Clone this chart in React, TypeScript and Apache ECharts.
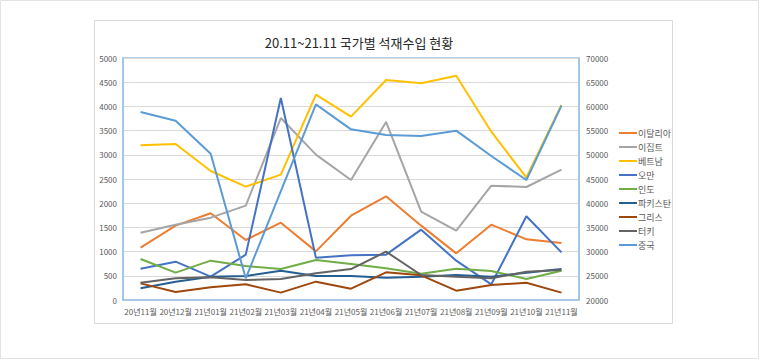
import React, { useEffect, useRef } from "react";
import * as echarts from "echarts";

const categories = ["20년11월", "20년12월", "21년01월", "21년02월", "21년03월", "21년04월", "21년05월", "21년06월", "21년07월", "21년08월", "21년09월", "21년10월", "21년11월"];

const italy = [1081, 1536, 1791, 1240, 1598, 1005, 1742, 2142, 1536, 964, 1556, 1253, 1178];
const egypt = [1391, 1556, 1701, 1949, 3760, 3003, 2479, 3678, 1825, 1432, 2362, 2335, 2693];
const vietnam = [3196, 3223, 2665, 2342, 2590, 4242, 3788, 4545, 4477, 4635, 3478, 2530, 4029];
const oman = [647, 792, 482, 937, 4174, 875, 923, 937, 1453, 813, 324, 1729, 985];
const india = [847, 565, 813, 702, 640, 826, 744, 654, 544, 647, 599, 434, 606];
const pakistan = [241, 379, 482, 496, 606, 496, 496, 461, 482, 516, 482, 565, 640];
const greece = [344, 165, 262, 324, 152, 379, 234, 572, 510, 193, 310, 358, 152];
const turkey = [358, 448, 468, 413, 434, 551, 640, 999, 516, 482, 448, 585, 620];
const china = [58840, 57050, 50230, 24480, 42520, 60430, 55260, 54090, 53880, 54990, 49750, 44790, 60150];

const seriesDefs = [
  { name: "이탈리아", data: italy, color: "#ED7D31", axis: 0 },
  { name: "이집트", data: egypt, color: "#A5A5A5", axis: 0 },
  { name: "베트남", data: vietnam, color: "#FFC000", axis: 0 },
  { name: "오만", data: oman, color: "#4472C4", axis: 0 },
  { name: "인도", data: india, color: "#70AD47", axis: 0 },
  { name: "파키스탄", data: pakistan, color: "#255E91", axis: 0 },
  { name: "그리스", data: greece, color: "#9E480E", axis: 0 },
  { name: "터키", data: turkey, color: "#636363", axis: 0 },
  { name: "중국", data: china, color: "#5B9BD5", axis: 1 },
];

const FONT = '"Noto Sans CJK KR", "Noto Sans", sans-serif';

export default function App() {
  const ref = useRef<HTMLDivElement>(null);
  useEffect(() => {
    document.body.style.margin = "0";
    const chart = echarts.init(ref.current!, null, { renderer: "svg" });
    chart.setOption({
      animation: false,
      backgroundColor: "#ffffff",
      textStyle: { fontFamily: FONT },
      title: {
        text: "20.11~21.11 국가별 석재수입 현황",
        left: 354,
        top: 31,
        textAlign: "center",
        textStyle: { fontSize: 13, fontWeight: "normal", color: "#262626", fontFamily: FONT },
      },
      graphic: [
        { type: "rect", shape: { x: 0.5, y: 0.5, width: 758, height: 358 }, style: { fill: "none", stroke: "#E3E3E3", lineWidth: 1 }, silent: true },
        { type: "rect", shape: { x: 94.5, y: 20.5, width: 578, height: 303 }, style: { fill: "none", stroke: "#D9D9D9", lineWidth: 1 }, silent: true },
      ],
      legend: {
        orient: "vertical",
        left: 614,
        top: 123,
        itemWidth: 18,
        itemHeight: 2,
        itemGap: 4,
        icon: "rect",
        data: seriesDefs.map((s) => s.name),
        textStyle: { fontSize: 9, color: "#595959", lineHeight: 10, padding: [0, 0, 0, -4], fontFamily: FONT },
      },
      grid: {
        left: 123,
        right: 181,
        top: 58,
        bottom: 60,
        show: true,
        borderColor: "#9DC3E6",
        borderWidth: 1.5,
      },
      xAxis: {
        type: "category",
        data: categories,
        boundaryGap: true,
        axisLine: { show: true, lineStyle: { color: "#9DC3E6", width: 1.5 } },
        axisTick: { show: false },
        axisLabel: { interval: 0, fontSize: 8, color: "#595959", margin: 7, fontFamily: FONT },
      },
      yAxis: [
        {
          type: "value",
          min: 0,
          max: 5000,
          interval: 500,
          axisLine: { show: true, lineStyle: { color: "#9DC3E6", width: 1.5 } },
          axisTick: { show: false },
          axisLabel: { fontSize: 8, color: "#595959", margin: 6, fontFamily: FONT, formatter: (v: number) => String(v) },
          splitLine: { show: true, lineStyle: { color: "#D9D9D9", width: 1 } },
        },
        {
          type: "value",
          min: 20000,
          max: 70000,
          interval: 5000,
          position: "right",
          axisLine: { show: true, lineStyle: { color: "#9DC3E6", width: 1.5 } },
          axisTick: { show: false },
          axisLabel: { fontSize: 8, color: "#595959", margin: 7, fontFamily: FONT, formatter: (v: number) => String(v) },
          splitLine: { show: false },
        },
      ],
      series: seriesDefs.map((s) => ({
        name: s.name,
        type: "line",
        data: s.data,
        yAxisIndex: s.axis,
        symbol: "none",
        color: s.color,
        lineStyle: { color: s.color, width: 2 },
      })),
    });
    return () => chart.dispose();
  }, []);
  return <div ref={ref} style={{ position: "absolute", left: 0, top: 0, width: 760, height: 360 }} />;
}
